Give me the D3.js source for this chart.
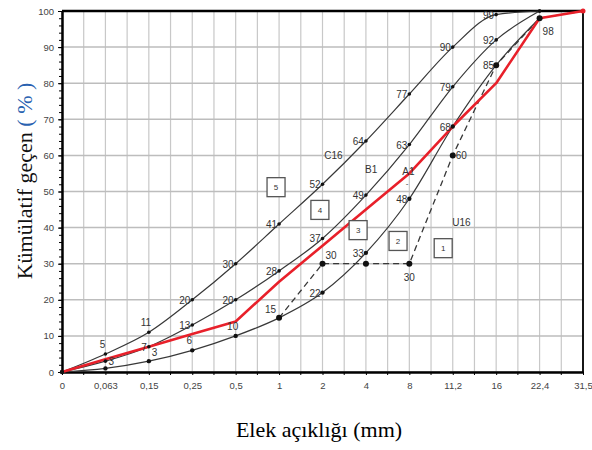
<!DOCTYPE html>
<html>
<head>
<meta charset="utf-8">
<script src="https://cdn.jsdelivr.net/npm/d3@7"></script>
<style>
  body { margin: 0; background: #fff; }
  text { font-family: "Liberation Sans", Arial, sans-serif; }
</style>
</head>
<body>
<div id="chart-container"></div>
<script>
// sieve sizes (mm), equally spaced on the chart
var sieves = ["0", "0,063", "0,15", "0,25", "0,5", "1", "2", "4", "8", "11,2", "16", "22,4", "31,5"];

// grading limit curves (% passing), null = not drawn
var curveC16 = [0, 5, 11, 20, 30, 41, 52, 64, 77, 90, 99, 100, null];
var curveB1  = [0, 3, 7, 13, 20, 28, 37, 49, 63, 79, 92, 100, null];
var curveA1  = [0, 1, 3, 6, 10, 15, 22, 33, 48, 68, 85, 98, null];
var curveU16 = [null, null, null, null, null, 15, 30, 30, 30, 60, 85, 98, 100];
// mixture
var mixture  = [0, 3.5, 7, 10.5, 14, 25, 35, 45, 55, 68, 80, 98, 100];

var yTicks = [0, 10, 20, 30, 40, 50, 60, 70, 80, 90, 100];
var zoneNames = ["5", "4", "3", "2", "1"];

var svgWidth = 592;
var svgHeight = 450;

var svg = d3.select('#chart-container')
    .append('svg')
    .attr('width', svgWidth)
    .attr('height', svgHeight);

var x = d3.scalePoint().domain(sieves).range([62, 583]);
var y = d3.scaleLinear().domain([0, 100]).range([372, 11]);
// fractional category position
function xf(i) { return x.range()[0] + i * x.step(); }

// grid
var grid = svg.append('g');
d3.range(0, sieves.length - 0.5, 0.5).forEach(function(i) {
    grid.append('line')
        .attr('x1', xf(i)).attr('x2', xf(i))
        .attr('y1', y(0)).attr('y2', y(100))
        .attr('stroke', '#c8c8c8').attr('stroke-width', 1.2);
});
yTicks.forEach(function(v) {
    grid.append('line')
        .attr('x1', x.range()[0]).attr('x2', x.range()[1])
        .attr('y1', y(v)).attr('y2', y(v))
        .attr('stroke', '#bdbdbd').attr('stroke-width', 1.5);
});

// axes
var yAxis = svg.append('g')
    .attr('transform', 'translate(' + x.range()[0] + ',0)')
    .call(d3.axisLeft(y).tickValues(yTicks).tickSize(4).tickPadding(4).tickSizeOuter(0));
svg.append('g')
    .attr('transform', 'translate(' + x.range()[0] + ',0)')
    .call(d3.axisLeft(y).tickValues(d3.range(0, 101, 2)).tickSize(3).tickFormat('').tickSizeOuter(0))
    .select('.domain').remove();
var xAxis = svg.append('g')
    .attr('transform', 'translate(0,' + y(0) + ')')
    .call(d3.axisBottom(x).tickSize(3).tickPadding(7).tickSizeOuter(0));
svg.append('g')
    .attr('transform', 'translate(0,' + y(0) + ')')
    .selectAll('line')
    .data(d3.range(0.5, sieves.length - 1, 1))
    .enter().append('line')
    .attr('x1', function(i) { return xf(i); }).attr('x2', function(i) { return xf(i); })
    .attr('y1', 0).attr('y2', 3)
    .attr('stroke', '#000');

[yAxis, xAxis].forEach(function(a) {
    a.select('.domain').attr('stroke', '#000').attr('stroke-width', 2.5);
    a.selectAll('text').style('font-size', '9.5px').attr('fill', '#444');
});

// frame top/right
svg.append('line')
    .attr('x1', x.range()[0]).attr('x2', x.range()[1])
    .attr('y1', y(100)).attr('y2', y(100))
    .attr('stroke', '#000').attr('stroke-width', 2.5);
svg.append('line')
    .attr('x1', x.range()[1]).attr('x2', x.range()[1])
    .attr('y1', y(100)).attr('y2', y(0))
    .attr('stroke', '#000').attr('stroke-width', 1.8);

function pts(arr) {
    return arr.map(function(v, i) { return { s: sieves[i], v: v, i: i }; });
}

var smooth = d3.line()
    .defined(function(d) { return d.v !== null; })
    .x(function(d) { return x(d.s); })
    .y(function(d) { return y(d.v); })
    .curve(d3.curveMonotoneX);
var straight = d3.line()
    .defined(function(d) { return d.v !== null; })
    .x(function(d) { return x(d.s); })
    .y(function(d) { return y(d.v); });

[curveC16, curveB1, curveA1].forEach(function(c) {
    svg.append('path')
        .datum(pts(c))
        .attr('fill', 'none')
        .attr('stroke', '#383838')
        .attr('stroke-width', 1.2)
        .attr('d', smooth);
});

svg.append('path')
    .datum(pts(curveU16))
    .attr('fill', 'none')
    .attr('stroke', '#383838')
    .attr('stroke-width', 1.3)
    .attr('stroke-dasharray', '6,4')
    .attr('d', straight);

svg.append('path')
    .datum(pts(mixture))
    .attr('fill', 'none')
    .attr('stroke', '#e8202a')
    .attr('stroke-width', 2.6)
    .attr('stroke-linejoin', 'round')
    .attr('d', straight);

// dots
function dots(arr, r) {
    svg.selectAll(null)
        .data(pts(arr).filter(function(d) { return d.v !== null; }))
        .enter().append('circle')
        .attr('cx', function(d) { return x(d.s); })
        .attr('cy', function(d) { return y(d.v); })
        .attr('r', r)
        .attr('fill', '#111');
}
dots(curveC16, 1.8);
dots(curveB1, 1.8);
dots(curveA1, 2.2);
dots(curveU16.map(function(v, i) { return i === 12 ? null : v; }), 3);
svg.append('circle').attr('cx', x(sieves[12])).attr('cy', y(100)).attr('r', 2.5).attr('fill', '#e8202a');

// value labels: default to the left of the point
var place = {
    "C16-1": "above", "C16-2": "above",
    "B1-1": "right",
    "A1-1": "none", "A1-2": "aboveRight", "A1-3": "above", "A1-4": "above", "A1-5": "aboveLeft",
    "A1-11": "belowRight",
    "U16-5": "none", "U16-6": "aboveRight", "U16-7": "none", "U16-8": "below", "U16-9": "right",
    "U16-10": "none", "U16-11": "none", "U16-12": "none"
};
function labels(name, arr) {
    pts(arr).forEach(function(d) {
        if (d.v === null || d.i === 0 || d.v === 100) return;
        var p = place[name + '-' + d.i] || 'left';
        if (p === 'none') return;
        var px = x(d.s), py = y(d.v);
        var t = svg.append('text')
            .style('font-size', '10px')
            .attr('fill', '#333')
            .text(d.v);
        if (p === 'left') t.attr('x', px - 2).attr('y', py + 4).attr('text-anchor', 'end');
        if (p === 'right') t.attr('x', px + 3).attr('y', py + 4).attr('text-anchor', 'start');
        if (p === 'above') t.attr('x', px - 3).attr('y', py - 6).attr('text-anchor', 'middle');
        if (p === 'aboveLeft') t.attr('x', px - 3).attr('y', py - 5).attr('text-anchor', 'end');
        if (p === 'aboveRight') t.attr('x', px + 3).attr('y', py - 5).attr('text-anchor', 'start');
        if (p === 'below') t.attr('x', px).attr('y', py + 17).attr('text-anchor', 'middle');
        if (p === 'belowRight') t.attr('x', px + 3).attr('y', py + 17).attr('text-anchor', 'start');
    });
}
labels('C16', curveC16);
labels('B1', curveB1);
labels('A1', curveA1);
labels('U16', curveU16);

// curve names (category index, % value)
var curveNames = [
    { t: "C16", i: 6.25, v: 59.0 },
    { t: "B1", i: 7.12, v: 55.0 },
    { t: "A1", i: 7.98, v: 54.5 },
    { t: "U16", i: 9.2, v: 40.5 }
];
curveNames.forEach(function(c) {
    svg.append('text')
        .attr('x', xf(c.i)).attr('y', y(c.v))
        .attr('text-anchor', 'middle')
        .style('font-size', '10px')
        .attr('fill', '#333')
        .text(c.t);
});
svg.append('text').attr('x', xf(7.95)).attr('y', y(51.5))
    .attr('text-anchor', 'middle').style('font-size', '8px').attr('fill', '#333').text('-');

// zone boxes
var zonePos = [
    { i: 4.93, v: 51.2 }, { i: 5.94, v: 44.9 }, { i: 6.82, v: 39.3 },
    { i: 7.74, v: 36.3 }, { i: 8.78, v: 34.3 }
];
zoneNames.forEach(function(z, k) {
    var cx = xf(zonePos[k].i), cy = y(zonePos[k].v);
    svg.append('rect')
        .attr('x', cx - 9).attr('y', cy - 9.5)
        .attr('width', 18).attr('height', 19)
        .attr('fill', '#fff')
        .attr('stroke', '#555').attr('stroke-width', 1.3);
    svg.append('text')
        .attr('x', cx).attr('y', cy + 3)
        .attr('text-anchor', 'middle')
        .style('font-size', '8px')
        .attr('fill', '#333')
        .text(z);
});

// axis titles
svg.append('text')
    .attr('x', 319).attr('y', 437)
    .attr('text-anchor', 'middle')
    .style('font-family', '"Liberation Serif", "Times New Roman", serif')
    .style('font-size', '22px')
    .attr('fill', '#000')
    .text('Elek açıklığı (mm)');

var yt = svg.append('text')
    .attr('transform', 'translate(32,181) rotate(-90)')
    .attr('text-anchor', 'middle')
    .style('font-family', '"Liberation Serif", "Times New Roman", serif')
    .style('font-size', '22px')
    .attr('fill', '#111');
yt.append('tspan').text('Kümülatif geçen ');
yt.append('tspan').attr('fill', '#2a62b0').text('( % )');
</script>
</body>
</html>
